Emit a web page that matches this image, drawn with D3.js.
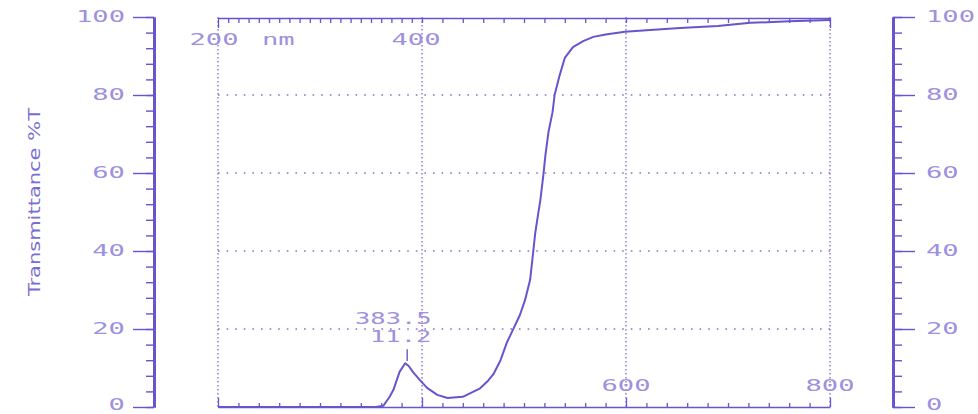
<!DOCTYPE html>
<html>
<head>
<meta charset="utf-8">
<script src="https://cdn.jsdelivr.net/npm/d3@7"></script>
<style>
  html, body { margin: 0; padding: 0; background: #ffffff; }
  svg { display: block; }
</style>
</head>
<body>
<svg id="chart" width="978" height="414"></svg>
<script>
// Transmission spectrum, wavelength (nm) vs transmittance (%T)
const wavelength = [200, 300, 355, 362, 368, 372, 378, 383.5, 387, 391, 398, 405, 415, 425, 440, 457, 465, 470, 477, 483, 489, 496, 501, 506, 509, 511, 514, 516, 519, 521, 524, 528, 530, 535, 540, 548, 558, 568, 580, 599, 620, 653, 690, 722, 760, 800];
const transmittance = [0, 0, 0, 0.3, 2.5, 4.4, 9, 11.2, 10.5, 9, 6.9, 4.9, 3.1, 2.3, 2.6, 4.8, 6.8, 8.4, 12, 16.4, 19.7, 23.6, 27.4, 32.6, 39.7, 44.6, 49.7, 53, 59.5, 64.6, 70.5, 75.6, 80, 85.1, 89.5, 92.3, 93.8, 94.9, 95.5, 96.2, 96.6, 97.2, 97.7, 98.5, 98.9, 99.2];

// peak annotation
const peakWavelength = 383.5;
const peakValue = 11.2;

// tick values
const yMajorTicks = [0, 20, 40, 60, 80, 100];
const yMinorTicks = d3.range(0, 101, 4);
const yGridTicks = [20, 40, 60, 80];
const xLabelTicks = [200, 400, 600, 800];
const xBottomTicks = d3.range(200, 801, 20);
const xTopTicks = d3.range(200, 400, 10).concat(d3.range(400, 801, 20));
const yAxisTitle = "Transmittance %T";
const unitLabel = "nm";

const ink = "#6655cc";
const textInk = "#9d91e0";
const gridInk = "#8174d4";

const svg = d3.select("#chart");

const x = d3.scaleLinear().domain([200, 800]).range([218, 830]);
const y = d3.scaleLinear().domain([0, 100]).range([407, 17]);

const leftX = 154, rightX = 893;

// stretched dot-matrix style text
function wideText(g, px, py, str, anchor, size) {
  return g.append("text")
    .attr("transform", `translate(${px},${py}) scale(1.7,1)`)
    .attr("text-anchor", anchor || "start")
    .attr("font-family", "DejaVu Sans Mono, Liberation Mono, monospace")
    .attr("font-size", size || 16)
    .attr("fill", textInk)
    .text(str);
}

// ----- grid -----
const grid = svg.append("g");
grid.selectAll("line.h").data(yGridTicks).join("line")
  .attr("x1", x(200)).attr("x2", x(800))
  .attr("y1", d => y(d)).attr("y2", d => y(d))
  .attr("stroke", gridInk).attr("stroke-width", 1.6)
  .attr("stroke-dasharray", "1.6,7");
grid.selectAll("line.v").data(xLabelTicks).join("line")
  .attr("x1", d => x(d)).attr("x2", d => x(d))
  .attr("y1", y(100)).attr("y2", y(0))
  .attr("stroke", gridInk).attr("stroke-width", 1.4)
  .attr("stroke-dasharray", "1.5,2.5");

// ----- frame: top and bottom wavelength axes -----
const topAxis = d3.axisBottom(x).tickValues(xTopTicks).tickSize(5).tickSizeOuter(0).tickFormat("");
const topG = svg.append("g").attr("transform", `translate(0,${y(100) + 1})`).call(topAxis);
const bottomAxis = d3.axisTop(x).tickValues(xBottomTicks).tickSize(4).tickSizeOuter(0).tickFormat("");
const bottomG = svg.append("g").attr("transform", `translate(0,${y(0)})`).call(bottomAxis);
bottomG.selectAll(".tick line").filter(d => xLabelTicks.includes(d)).attr("y2", -9);
topG.selectAll(".tick line").filter(d => d === 200 || d === 800).attr("y2", 10);
[topG, bottomG].forEach(g => {
  g.select(".domain").attr("stroke", ink).attr("stroke-width", 1.6);
  g.selectAll(".tick line").attr("stroke", ink).attr("stroke-width", 1.3);
});

// ----- left and right %T axes -----
function tAxis(gen, xPos, majorLen, minorLen) {
  const g = svg.append("g").attr("transform", `translate(${xPos},0)`);
  g.append("g").call(gen(y).tickValues(yMinorTicks).tickSize(minorLen).tickSizeOuter(0).tickFormat(""));
  g.append("g").call(gen(y).tickValues(yMajorTicks).tickSize(majorLen).tickSizeOuter(0).tickFormat(""));
  g.selectAll(".domain").attr("stroke", ink).attr("stroke-width", 3);
  g.selectAll(".tick line").attr("stroke", ink).attr("stroke-width", 1.4);
  return g;
}
tAxis(d3.axisLeft, leftX, 21, 8);
tAxis(d3.axisRight, rightX, 22, 9);

const labels = svg.append("g");
yMajorTicks.forEach(v => {
  const by = Math.min(y(v) + 5, 409.5);
  wideText(labels, 125, by, String(v), "end");
  wideText(labels, 926, by, String(v), "start");
});

// wavelength labels
wideText(labels, 214, 45, String(xLabelTicks[0]), "middle");
wideText(labels, 262, 45, unitLabel, "start");
wideText(labels, 416, 45, String(xLabelTicks[1]), "middle");
wideText(labels, x(600), 391, String(xLabelTicks[2]), "middle");
wideText(labels, x(800), 391, String(xLabelTicks[3]), "middle");

// axis title
svg.append("text")
  .attr("transform", `translate(40,202) rotate(-90)`)
  .attr("text-anchor", "middle")
  .attr("font-family", "DejaVu Sans Condensed, DejaVu Sans, sans-serif")
  .attr("font-stretch", "condensed")
  .attr("font-size", 15)
  .attr("textLength", 188)
  .attr("lengthAdjust", "spacingAndGlyphs")
  .attr("fill", "#7a6dd2")
  .text(yAxisTitle);

// ----- spectrum -----
const pts = wavelength.map((w, i) => [w, transmittance[i]]);
const line = d3.line().x(d => x(d[0])).y(d => y(d[1]));
svg.append("path")
  .datum(pts)
  .attr("d", line)
  .attr("fill", "none")
  .attr("stroke", ink)
  .attr("stroke-width", 2)
  .attr("stroke-linejoin", "round");

// peak marker and two-line readout (wavelength over value)
svg.append("line")
  .attr("x1", x(peakWavelength) + 2).attr("x2", x(peakWavelength) + 2)
  .attr("y1", y(peakValue + 0.6)).attr("y2", y(peakValue + 3.6))
  .attr("stroke", ink).attr("stroke-width", 1.4);
wideText(labels, 355, 324, peakWavelength.toFixed(1), "start", 15);
wideText(labels, 370, 341.5, peakValue.toFixed(1), "start", 15);
</script>
</body>
</html>
